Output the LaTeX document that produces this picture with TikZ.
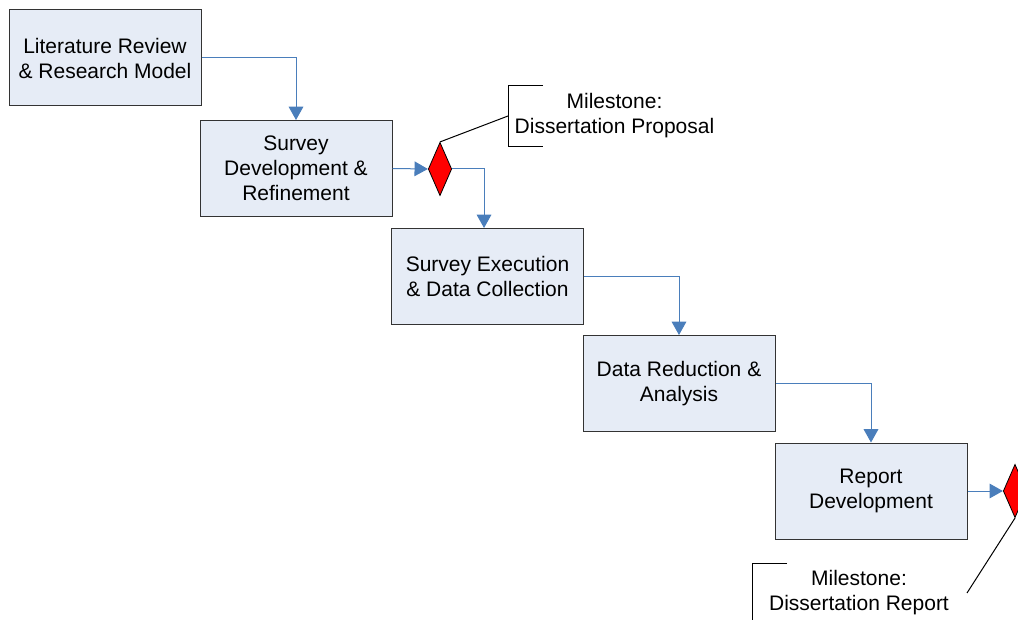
\documentclass[tikz,border=0pt]{standalone}
\usepackage{fontspec}
\setmainfont{Liberation Sans}
\usetikzlibrary{arrows.meta, shapes.geometric}
\definecolor{taskfill}{RGB}{230,236,246}
\definecolor{flowblue}{RGB}{74,126,187}

\begin{document}
\begin{tikzpicture}[x=0.75pt, y=-0.75pt,
    font=\fontsize{15.75}{18.75}\selectfont,
    task/.style={draw=black!80, fill=taskfill, line width=0.75pt, minimum width=144pt, minimum height=72pt, inner sep=0pt, align=center},
    milestone/.style={diamond, draw=black, fill=red, line width=0.6pt, minimum width=17.6pt, minimum height=40pt, inner sep=0pt},
    flow/.style={draw=flowblue, line width=0.75pt, -{Triangle[length=10pt, width=11pt]}},
    callout/.style={draw=black, line width=0.75pt}]
    \clip (0,0) rectangle (1018,620);

    % phases, stepping down to the right
    \node [task] (lit) at (105,58) {Literature Review\\\& Research Model};
    \node [task] (survey) at (296,168.5) {Survey\\Development \&\\Refinement};
    \node [task] (exec) at (487.5,276.5) {Survey Execution\\\& Data Collection};
    \node [task] (reduce) at (679,383.5) {Data Reduction \&\\Analysis};
    \node [task] (report) at (871,491) {Report\\Development};

    % milestones
    \node [milestone] (ms1) at (440,169) {};
    \node [milestone] (ms2) at (1015,491) {};

    \draw [flow] (lit.east) -| (survey.north);
    \draw [flow] (survey.east) -- (ms1.west);
    \draw [flow] (ms1.east) -| ([xshift=-2.6pt]exec.north);
    \draw [flow] (exec.east) -| (reduce.north);
    \draw [flow] (reduce.east) -| (report.north);
    \draw [flow] (report.east) -- (ms2.west);

    % callouts
    \node [align=center] (note1) at (614.5,116) {Milestone:\\Dissertation Proposal};
    \coordinate (b1) at (508,116);
    \draw [callout] (543,86) -- (508,86) -- (508,147) -- (543,147);
    \draw [callout] (ms1.north) -- (b1);

    \node [align=center] (note2) at (859,593) {Milestone:\\Dissertation Report};
    \coordinate (b2) at (967,593);
    \draw [callout] (787,563) -- (752,563) -- (752,625);
    \draw [callout] (ms2.south) -- (b2);
\end{tikzpicture}
\end{document}
